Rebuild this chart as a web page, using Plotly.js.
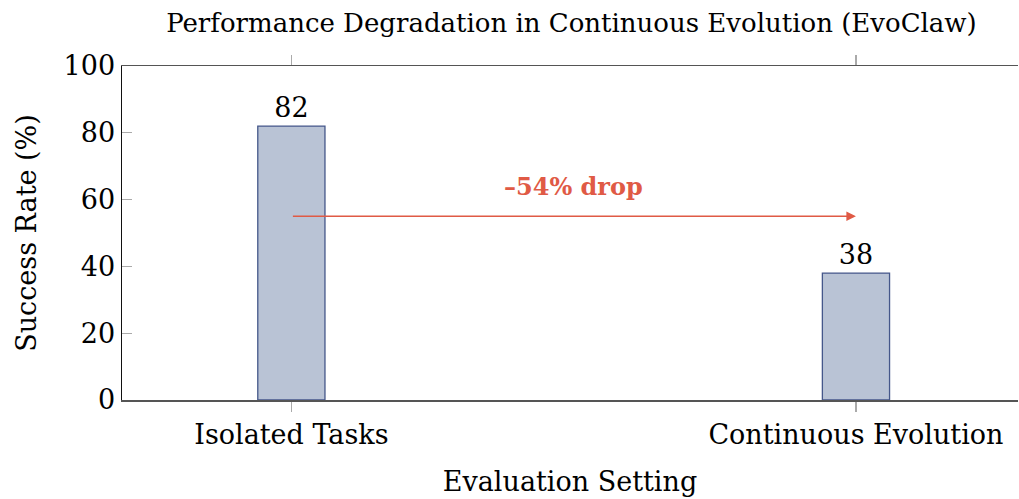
<!DOCTYPE html>
<html><head><meta charset="utf-8">
<script src="https://cdn.plot.ly/plotly-3.0.1.min.js"></script>
<style>body{margin:0;padding:0;overflow:hidden;background:#fff}</style>
</head><body>
<div id="chart" style="width:1019px;height:499px"></div>
<script>
const categories = ["Isolated Tasks", "Continuous Evolution"];
const successRate = [82, 38];
const yTicks = [0, 20, 40, 60, 80, 100];
const dropLabel = "–54% drop";
const arrowLevel = 55;
const labelLevel = 64;

const F = "'DejaVu Serif', 'Liberation Serif', serif";
const red = "#e05a45";

const trace = {
  type: "bar",
  x: [0, 1],
  y: successRate,
  width: 0.119,
  marker: {color: "#b9c3d5", line: {color: "#45578a", width: 1.3}},
  text: successRate.map(String),
  textposition: "outside",
  cliponaxis: false,
  textfont: {family: F, size: 27, color: "#000"},
  hoverinfo: "skip"
};

const layout = {
  width: 1019, height: 499,
  margin: {l: 122, r: 1, t: 66, b: 99},
  paper_bgcolor: "#fff", plot_bgcolor: "#fff",
  showlegend: false,
  title: {text: "Performance Degradation in Continuous Evolution (EvoClaw)",
          font: {family: F, size: 26, color: "#000"}, x: 0.5608, xanchor: "center", y: 0.955, yanchor: "middle"},
  xaxis: {
    range: [-0.3, 1.287], tickvals: [0, 1], ticktext: categories,
    showgrid: false, zeroline: false,
    showline: true, linecolor: "#555", linewidth: 1.5, mirror: "ticks",
    ticks: "outside", ticklen: 10, tickcolor: "#aaa", tickwidth: 1.2,
    tickfont: {family: F, size: 27, color: "#000"},
    title: {text: "Evaluation Setting", font: {family: F, size: 27, color: "#000"}, standoff: 23}
  },
  yaxis: {
    range: [0, 100], tickvals: yTicks, showgrid: false, zeroline: false,
    showline: true, linecolor: "#111", linewidth: 1.5,
    ticks: "inside", ticklen: 10, tickcolor: "#aaa", tickwidth: 1.2,
    tickfont: {family: F, size: 27, color: "#000"},
    title: {text: "Success Rate (%)", font: {family: F, size: 27, color: "#000"}, standoff: 19}
  },
  yaxis2: {
    range: [0, 100], tickvals: yTicks, overlaying: "y", side: "right",
    showgrid: false, zeroline: false, showline: false, showticklabels: false,
    ticks: "inside", ticklen: 10, tickcolor: "#aaa", tickwidth: 1.2
  },
  annotations: [
    {x: 1, y: arrowLevel, ax: 0, ay: arrowLevel, xref: "x", yref: "y", axref: "x", ayref: "y",
     showarrow: true, arrowhead: 2, arrowsize: 1.2, arrowwidth: 1.6, arrowcolor: red, text: ""},
    {x: 0.5, y: labelLevel, xref: "x", yref: "y", showarrow: false, text: "<b>" + dropLabel + "</b>",
     font: {family: F, size: 24, color: red}}
  ]
};

Plotly.newPlot("chart", [trace], layout, {displayModeBar: false, staticPlot: true});
</script>
</body></html>
